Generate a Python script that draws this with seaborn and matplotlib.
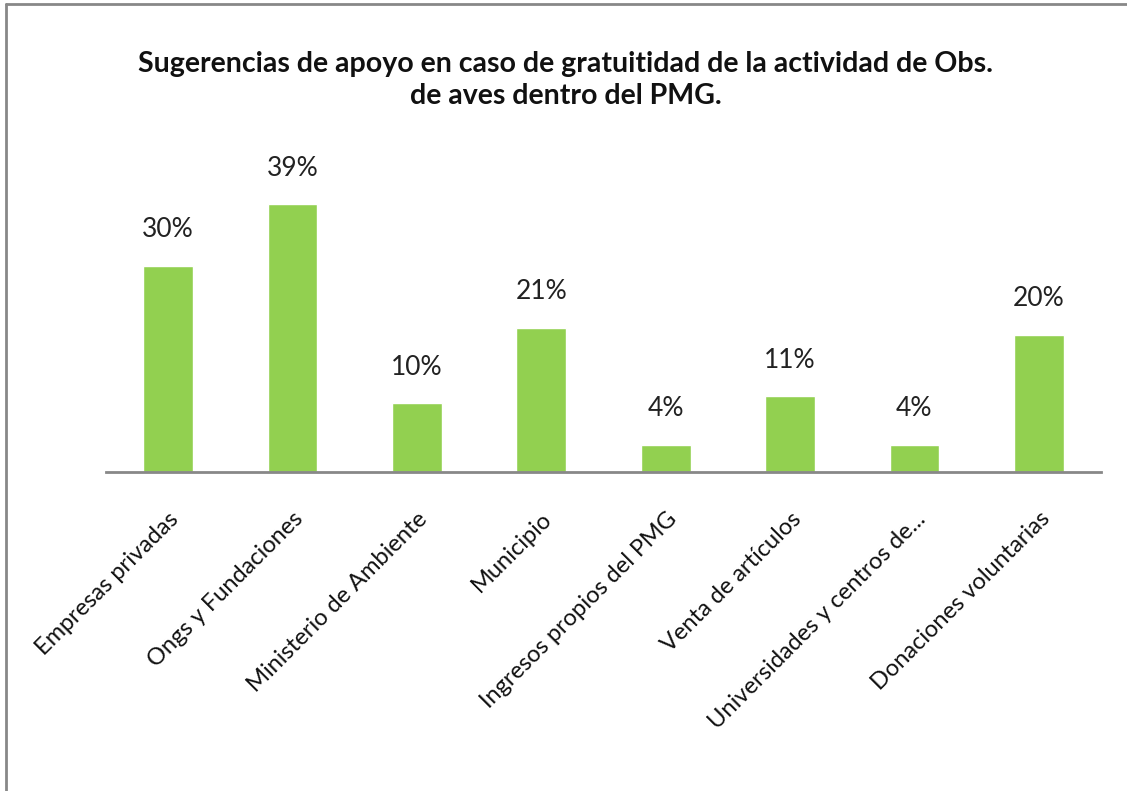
import pandas as pd
import matplotlib
matplotlib.use('Agg')
import matplotlib.pyplot as plt
import seaborn as sns
from matplotlib.lines import Line2D

# Datos
categorias = [
    'Empresas privadas',
    'Ongs y Fundaciones',
    'Ministerio de Ambiente',
    'Municipio',
    'Ingresos propios del PMG',
    'Venta de artículos',
    'Universidades y centros de...',
    'Donaciones voluntarias',
]
porcentajes = [30, 39, 10, 21, 4, 11, 4, 20]
etiquetas = ['30%', '39%', '10%', '21%', '4%', '11%', '4%', '20%']

df = pd.DataFrame({'Categoria': categorias, 'Porcentaje': porcentajes})

sns.set_style('white')
plt.rcParams['font.family'] = ['Lato', 'DejaVu Sans']

fig = plt.figure(figsize=(11.27, 7.91), dpi=100)
ax = fig.add_axes([106 / 1127, 1 - 472 / 791, 995 / 1127, 342 / 791])

sns.barplot(
    data=df,
    x='Categoria',
    y='Porcentaje',
    color='#92D050',
    saturation=1,
    width=0.40,
    ax=ax
)

ax.set_ylim(0, 49.8)
ax.set_xlim(-0.5, len(categorias) - 0.5)

# Etiquetas de valor
for i, (v, txt) in enumerate(zip(porcentajes, etiquetas)):
    ax.annotate(
        txt,
        (i, v),
        xytext=(0, 26),
        textcoords='offset points',
        ha='center',
        va='center',
        fontsize=19,
        color='#222222'
    )

# Ejes
for s in ['top', 'right', 'left']:
    ax.spines[s].set_visible(False)
ax.spines['bottom'].set_color('#888888')
ax.spines['bottom'].set_linewidth(2)
ax.set_yticks([])
ax.set_xlabel('')
ax.set_ylabel('')
ax.tick_params(axis='x', length=0, pad=26)
ax.set_xticks(range(len(categorias)))
ax.set_xticklabels(
    categorias,
    rotation=45,
    ha='right',
    va='top',
    rotation_mode='anchor',
    fontsize=17,
    color='#111111'
)

# Título
fig.text(
    566 / 1127, 1 - 80 / 791,
    'Sugerencias de apoyo en caso de gratuitidad de la actividad de Obs.\nde aves dentro del PMG.',
    ha='center',
    va='center',
    fontsize=20.5,
    fontweight='bold',
    linespacing=1.3,
    color='#111111'
)

# Marco parcial
fig.add_artist(Line2D([6 / 1127, 1], [1 - 4 / 791, 1 - 4 / 791],
                      transform=fig.transFigure, color='#888888', lw=2))
fig.add_artist(Line2D([6 / 1127, 6 / 1127], [0, 1 - 4 / 791],
                      transform=fig.transFigure, color='#888888', lw=2))

fig.savefig('out.png', dpi=100)
